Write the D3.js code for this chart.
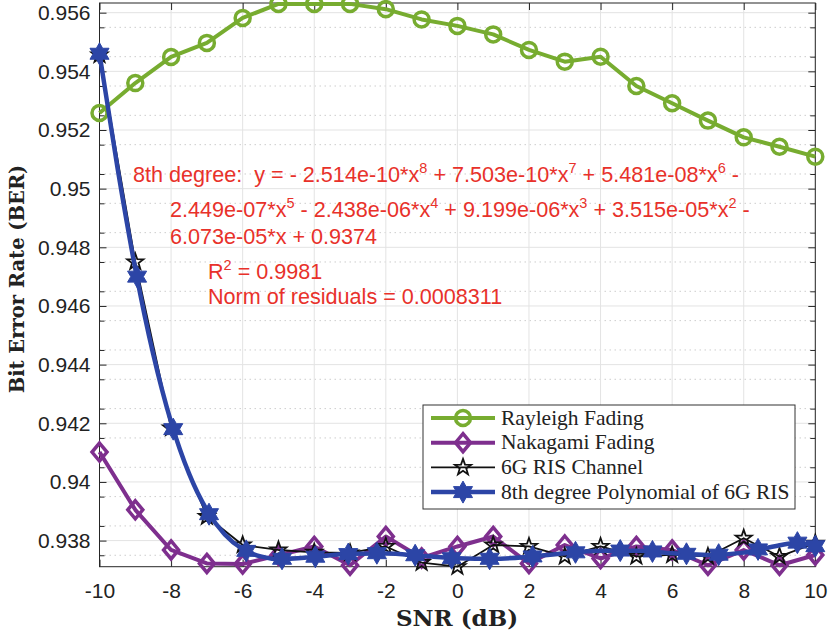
<!DOCTYPE html>
<html>
<head>
<meta charset="utf-8">
<script src="https://cdn.jsdelivr.net/npm/d3@7"></script>
<style>
  html, body { margin: 0; padding: 0; background: #fff; }
  svg { display: block; }
</style>
</head>
<body>
<div id="chart"></div>
<script>
// eixo x (SNR em dB)
const snr = [-10, -9, -8, -7, -6, -5, -4, -3, -2, -1, 0, 1, 2, 3, 4, 5, 6, 7, 8, 9, 10];

const rayleigh = [0.95258, 0.9536, 0.95449, 0.95497, 0.95582, 0.9563, 0.9563, 0.9563, 0.95612, 0.95577,
  0.95555, 0.95526, 0.95473, 0.95433, 0.9545, 0.9535, 0.95291, 0.95232, 0.95175, 0.95143, 0.95109];

const nakagami = [0.94102, 0.93905, 0.93768, 0.93722, 0.9372, 0.9375, 0.9378, 0.93716, 0.93814, 0.93741,
  0.9378, 0.93814, 0.93722, 0.93785, 0.93739, 0.9378, 0.93768, 0.93716, 0.93768, 0.93716, 0.93751];

const ris = [0.95456, 0.9475, 0.94184, 0.93882, 0.93785, 0.93768, 0.9376, 0.93758, 0.9378, 0.93725,
  0.93711, 0.93785, 0.9378, 0.93746, 0.9378, 0.93746, 0.93751, 0.93746, 0.93808, 0.93746, 0.93791];

// curva ajustada
const fitX = [-10, -9.5, -9, -8.5, -8, -7.5, -7, -6.5, -6, -5.5, -5, -4, -3, -2, -1, 0, 1, 2, 3, 4, 5, 6, 7, 8, 8.5, 9, 9.5, 10];
const fitY = [0.9546, 0.95073, 0.94727, 0.94436, 0.94204, 0.94029, 0.93904, 0.93821, 0.93771, 0.93746, 0.93737,
  0.93744, 0.93755, 0.93756, 0.93748, 0.9374, 0.93738, 0.93745, 0.93757, 0.93765, 0.93765, 0.93757, 0.93751,
  0.93759, 0.93771, 0.93784, 0.93793, 0.93781];

// posições dos marcadores da curva ajustada
const fitMarkX = [-10, -8.95, -7.94, -6.94, -5.9, -4.9, -3.97, -3.05, -2.25, -1.18, -0.16, 0.9, 2.1, 3.3, 4.55, 5.45, 6.4, 7.3, 8.4, 9.5, 10];
const fitMarkY = [0.9546, 0.947, 0.9418, 0.9389, 0.93765, 0.93738, 0.93745, 0.93754, 0.93757, 0.9375, 0.9374,
  0.93738, 0.93746, 0.9376, 0.93766, 0.93763, 0.93755, 0.93752, 0.9377, 0.93793, 0.93781];

const xTicks = [-10, -8, -6, -4, -2, 0, 2, 4, 6, 8, 10];
const yTicks = [0.938, 0.94, 0.942, 0.944, 0.946, 0.948, 0.95, 0.952, 0.954, 0.956];
const yMinor = [0.9375, 0.9385, 0.9395, 0.9405, 0.9415, 0.9425, 0.9435, 0.9445, 0.9455, 0.9465, 0.9475,
  0.9485, 0.9495, 0.9505, 0.9515, 0.9525, 0.9535, 0.9545, 0.9555];

const legendLabels = ["Rayleigh Fading", "Nakagami Fading", "6G RIS Channel", "8th degree Polynomial of 6G RIS"];

const W = 829, H = 634;
const L = 99.5, R = 815.3, T = 3, B = 566.7;

const svg = d3.select("#chart").append("svg").attr("width", W).attr("height", H);

const x = d3.scaleLinear().domain([-10, 10]).range([L, R]);
const y = d3.scaleLinear().domain([0.93711, 0.95633]).range([B, T]);

const COL = {
  green: "#77ac30",
  purple: "#7e2f8e",
  black: "#111",
  blue: "#2c45a6",
  red: "#e8312a",
  axis: "#262626"
};

// grade
const grid = svg.append("g");
grid.selectAll(".gmin").data(yMinor).join("line")
  .attr("x1", L).attr("x2", R).attr("y1", (d) => y(d)).attr("y2", (d) => y(d))
  .attr("stroke", "#cdcdcd").attr("stroke-width", 1).attr("stroke-dasharray", "1.5,3.5");
grid.selectAll(".gx").data(xTicks).join("line")
  .attr("x1", (d) => x(d)).attr("x2", (d) => x(d)).attr("y1", T).attr("y2", B)
  .attr("stroke", "#e3e3e3").attr("stroke-width", 1);
grid.selectAll(".gy").data(yTicks).join("line")
  .attr("x1", L).attr("x2", R).attr("y1", (d) => y(d)).attr("y2", (d) => y(d))
  .attr("stroke", "#e3e3e3").attr("stroke-width", 1);

// eixos (ticks para dentro, nos quatro lados)
const tickFmt = (d) => String(+d.toFixed(3));
const axFont = "'Liberation Sans', Arial, Helvetica, sans-serif";

function styleAxis(g) {
  g.select(".domain").remove();
  g.selectAll("line").attr("stroke", COL.axis).attr("stroke-width", 1);
  g.selectAll("text").style("font-family", axFont).style("font-size", "21px").attr("fill", "#222");
}

svg.append("g").attr("transform", `translate(0,${B})`)
  .call(d3.axisBottom(x).tickValues(xTicks).tickSize(-7).tickPadding(16).tickFormat((d) => String(d)))
  .call(styleAxis);
svg.append("g").attr("transform", `translate(0,${T})`)
  .call(d3.axisTop(x).tickValues(xTicks).tickSize(-7).tickFormat(""))
  .call(styleAxis);
svg.append("g").attr("transform", `translate(${L},0)`)
  .call(d3.axisLeft(y).tickValues(yTicks).tickSize(-7).tickPadding(9).tickFormat(tickFmt))
  .call(styleAxis);
svg.append("g").attr("transform", `translate(${R},0)`)
  .call(d3.axisRight(y).tickValues(yTicks).tickSize(-7).tickFormat(""))
  .call(styleAxis);
svg.append("g").attr("transform", `translate(${L},0)`)
  .call(d3.axisLeft(y).tickValues(yMinor).tickSize(-5).tickFormat(""))
  .call(styleAxis);
svg.append("g").attr("transform", `translate(${R},0)`)
  .call(d3.axisRight(y).tickValues(yMinor).tickSize(-5).tickFormat(""))
  .call(styleAxis);

svg.append("rect").attr("x", L).attr("y", T).attr("width", R - L).attr("height", B - T)
  .attr("fill", "none").attr("stroke", COL.axis).attr("stroke-width", 1);

// marcadores
function starPath(n, ro, ri) {
  const p = d3.path();
  for (let i = 0; i < 2 * n; i++) {
    const r = i % 2 === 0 ? ro : ri;
    const a = -Math.PI / 2 + (i * Math.PI) / n;
    const px = r * Math.cos(a), py = r * Math.sin(a);
    if (i === 0) p.moveTo(px, py); else p.lineTo(px, py);
  }
  p.closePath();
  return p.toString();
}
const circlePath = (r) => d3.symbol(d3.symbolCircle, Math.PI * r * r)();
const diamondPath = (w, h) => `M0,${-h}L${w},0L0,${h}L${-w},0Z`;

const series = [
  { vals: rayleigh, color: COL.green, lw: 4, marker: circlePath(7.5), mw: 3.5, fill: "none" },
  { vals: nakagami, color: COL.purple, lw: 4, marker: diamondPath(7.5, 9), mw: 3.5, fill: "none" },
  { vals: ris, color: COL.black, lw: 1.8, marker: starPath(5, 8.5, 3.4), mw: 1.8, fill: "none" }
];

const line = d3.line().x((d) => x(d[0])).y((d) => y(d[1]));

series.forEach((s) => {
  const pts = snr.map((v, i) => [v, s.vals[i]]);
  svg.append("path").datum(pts).attr("d", line)
    .attr("fill", "none").attr("stroke", s.color).attr("stroke-width", s.lw)
    .attr("stroke-linejoin", "round");
  svg.append("g").selectAll("path").data(pts).join("path")
    .attr("transform", (d) => `translate(${x(d[0])},${y(d[1])})`)
    .attr("d", s.marker)
    .attr("fill", s.fill).attr("stroke", s.color).attr("stroke-width", s.mw)
    .attr("stroke-linejoin", "miter");
});

// curva polinomial
const fitPts = fitX.map((v, i) => [v, fitY[i]]);
svg.append("path").datum(fitPts)
  .attr("d", d3.line().x((d) => x(d[0])).y((d) => y(d[1])).curve(d3.curveMonotoneX))
  .attr("fill", "none").attr("stroke", COL.blue).attr("stroke-width", 4.5)
  .attr("stroke-linejoin", "round");
const hexStar = starPath(6, 11, 6.3);
svg.append("g").selectAll("path").data(fitMarkX.map((v, i) => [v, fitMarkY[i]])).join("path")
  .attr("transform", (d) => `translate(${x(d[0])},${y(d[1])})`)
  .attr("d", hexStar)
  .attr("fill", COL.blue).attr("stroke", COL.blue).attr("stroke-width", 1);

// texto da equação
const eqFont = "'Liberation Sans', Arial, Helvetica, sans-serif";
const eqLines = [
  { x: 133, y: 182, parts: [["8th degree:  y = - 2.514e-10*x"], ["8", 1], [" + 7.503e-10*x"], ["7", 1], [" + 5.481e-08*x"], ["6", 1], [" -"]] },
  { x: 170, y: 217, parts: [["2.449e-07*x"], ["5", 1], [" - 2.438e-06*x"], ["4", 1], [" + 9.199e-06*x"], ["3", 1], [" + 3.515e-05*x"], ["2", 1], [" -"]] },
  { x: 170, y: 243.5, parts: [["6.073e-05*x + 0.9374"]] },
  { x: 208, y: 278.5, parts: [["R"], ["2", 1], [" = 0.9981"]] },
  { x: 208, y: 304, parts: [["Norm of residuals = 0.0008311"]] }
];
eqLines.forEach((ln) => {
  const t = svg.append("text").attr("x", ln.x).attr("y", ln.y)
    .style("font-family", eqFont).style("font-size", "21.6px").attr("fill", COL.red)
    .attr("xml:space", "preserve");
  let raised = false;
  ln.parts.forEach(([txt, sup]) => {
    const ts = t.append("tspan").text(txt);
    if (sup) { ts.attr("dy", -9).style("font-size", "14.5px"); raised = true; }
    else if (raised) { ts.attr("dy", 9); raised = false; }
  });
});

// títulos dos eixos
const serif = "'DejaVu Serif', 'Liberation Serif', serif";
svg.append("text").attr("x", 457).attr("y", 626).attr("text-anchor", "middle")
  .style("font-family", serif).style("font-weight", "bold").style("font-size", "23px").attr("fill", "#222")
  .text("SNR (dB)");
svg.append("text").attr("transform", `translate(24,279) rotate(-90)`).attr("text-anchor", "middle")
  .style("font-family", serif).style("font-weight", "bold").style("font-size", "19.5px").attr("fill", "#222")
  .text("Bit Error Rate (BER)");

// legenda
const lg = svg.append("g");
lg.append("rect").attr("x", 423).attr("y", 405).attr("width", 372).attr("height", 104)
  .attr("fill", "#fff").attr("stroke", "#333").attr("stroke-width", 1);
const legItems = [
  { color: COL.green, lw: 4, marker: circlePath(7.5), mw: 3.5, fill: "none" },
  { color: COL.purple, lw: 4, marker: diamondPath(7.5, 9), mw: 3.5, fill: "none" },
  { color: COL.black, lw: 1.8, marker: starPath(5, 8.5, 3.4), mw: 1.8, fill: "none" },
  { color: COL.blue, lw: 4.5, marker: hexStar, mw: 1, fill: COL.blue }
];
legItems.forEach((it, i) => {
  const cy = 418 + i * 24.7;
  lg.append("line").attr("x1", 431).attr("x2", 495).attr("y1", cy).attr("y2", cy)
    .attr("stroke", it.color).attr("stroke-width", it.lw);
  lg.append("path").attr("transform", `translate(463,${cy})`).attr("d", it.marker)
    .attr("fill", it.fill).attr("stroke", it.color).attr("stroke-width", it.mw);
  lg.append("text").attr("x", 501).attr("y", cy + 6.5)
    .style("font-family", "'Liberation Serif', 'Times New Roman', serif").style("font-size", "21.5px").attr("fill", "#222")
    .text(legendLabels[i]);
});
</script>
</body>
</html>
